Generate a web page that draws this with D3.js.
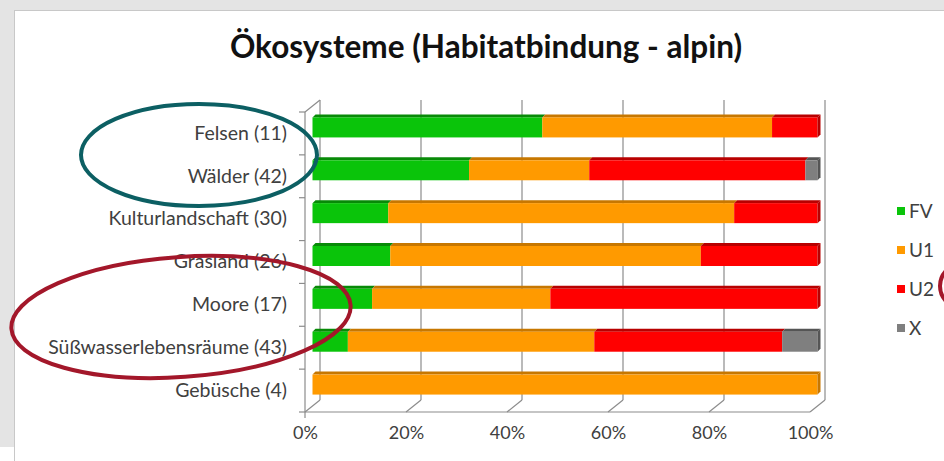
<!DOCTYPE html>
<html lang="de">
<head>
<meta charset="UTF-8">
<title>Ökosysteme (Habitatbindung - alpin)</title>
<script src="https://cdn.jsdelivr.net/npm/d3@7"></script>
<style>
  body { margin: 0; background: #fff; }
  svg { display: block; font-family: Lato, "Open Sans", sans-serif; }
</style>
</head>
<body>
<div id="container"></div>
<script>
// Data (share of species per assessment, in %)
var categories = ["Felsen (11)", "Wälder (42)", "Kulturlandschaft (30)", "Grasland (26)",
                  "Moore (17)", "Süßwasserlebensräume (43)", "Gebüsche (4)"];
var seriesNames = ["FV", "U1", "U2", "X"];
var fv = [45.5, 31.0, 15.0, 15.4, 11.8, 7.0, 0];
var u1 = [45.5, 23.8, 68.5, 61.5, 35.3, 48.8, 100];
var u2 = [9.0, 42.8, 16.5, 23.1, 52.9, 37.2, 0];
var x_ = [0, 2.4, 0, 0, 0, 7.0, 0];
var tickValues = [0, 20, 40, 60, 80, 100];

var W = 944, H = 461;
var svg = d3.select("#container").append("svg")
    .attr("width", W).attr("height", H);

// slide frame
svg.append("rect").attr("width", W).attr("height", H).attr("fill", "#fff");
svg.append("rect").attr("x", 0).attr("y", 0).attr("width", W).attr("height", 10).attr("fill", "#e4e4e4");
svg.append("rect").attr("x", 0).attr("y", 0).attr("width", 14).attr("height", 447).attr("fill", "#e4e4e4");
svg.append("line").attr("x1", 14).attr("x2", W).attr("y1", 10.5).attr("y2", 10.5).attr("stroke", "#c8c8c8");
svg.append("line").attr("x1", 14.5).attr("x2", 14.5).attr("y1", 10).attr("y2", H).attr("stroke", "#c8c8c8");

// title
svg.append("text")
    .attr("x", 486).attr("y", 58)
    .attr("text-anchor", "middle")
    .attr("font-size", 31.5).attr("font-weight", "bold")
    .attr("fill", "#111")
    .text("Ökosysteme (Habitatbindung - alpin)");

// scales (front plane), depth offset for the 3D box
var xScale = d3.scaleLinear().domain([0, 100]).range([305, 810]);
var yScale = d3.scaleBand().domain(categories).range([112, 412]);
var DX = 15, DY = -12;
var colors = { FV: "#0ac40a", U1: "#ff9a00", U2: "#ff0000", X: "#7f7f7f" };
var dark = { FV: "#078a07", U1: "#c77700", U2: "#b80000", X: "#555555" };

var top0 = yScale.range()[0], bot0 = yScale.range()[1];
var grid = svg.append("g").attr("stroke", "#8c8c8c").attr("stroke-width", 1.2).attr("fill", "none");

// back wall gridlines
grid.selectAll("line.v").data(tickValues).enter().append("line")
    .attr("x1", d => xScale(d) + DX).attr("x2", d => xScale(d) + DX)
    .attr("y1", top0 + DY).attr("y2", bot0 + DY);
// floor diagonals
grid.selectAll("line.f").data(tickValues).enter().append("line")
    .attr("x1", d => xScale(d)).attr("x2", d => xScale(d) + DX)
    .attr("y1", bot0).attr("y2", bot0 + DY);
// floor front edge
grid.append("line").attr("x1", xScale(0)).attr("x2", xScale(100)).attr("y1", bot0).attr("y2", bot0);
// left wall
grid.append("line").attr("x1", xScale(0)).attr("x2", xScale(0)).attr("y1", top0).attr("y2", bot0 + 6);
grid.append("line").attr("x1", xScale(0)).attr("x2", xScale(0) + DX).attr("y1", top0).attr("y2", top0 + DY);
// category ticks on the left wall
var bounds = categories.map(c => yScale(c)).concat([bot0]);
grid.selectAll("line.t").data(bounds).enter().append("line")
    .attr("x1", xScale(0) - 6).attr("x2", xScale(0))
    .attr("y1", d => d).attr("y2", d => d);

// stacked bars
var table = categories.map((c, i) => ({ cat: c, FV: fv[i], U1: u1[i], U2: u2[i], X: x_[i] }));
var stacked = d3.stack().keys(seriesNames)(table);
var bh = 20, mx = DX / 2, my = DY / 2, bd = 3;

var layers = svg.selectAll("g.layer").data(stacked).enter().append("g").attr("class", "layer");
layers.each(function (s) {
    var g = d3.select(this);
    var key = s.key;
    var segs = s.filter(d => d[1] - d[0] > 0);
    // top face
    g.selectAll("path.top").data(segs).enter().append("path")
        .attr("fill", dark[key])
        .attr("d", d => {
            var x1 = xScale(d[0]) + mx, x2 = xScale(d[1]) + mx;
            var y = yScale(d.data.cat) + yScale.bandwidth() / 2 + my - bh / 2;
            return "M" + x1 + "," + y + "L" + x2 + "," + y + "L" + (x2 + bd) + "," + (y - bd) +
                   "L" + (x1 + bd) + "," + (y - bd) + "Z";
        });
    // front face
    g.selectAll("rect").data(segs).enter().append("rect")
        .attr("x", d => xScale(d[0]) + mx)
        .attr("y", d => yScale(d.data.cat) + yScale.bandwidth() / 2 + my - bh / 2)
        .attr("width", d => xScale(d[1]) - xScale(d[0]))
        .attr("height", bh)
        .attr("fill", colors[key]);
    // end face for the last segment of each bar
    g.selectAll("path.end").data(segs.filter(d => d[1] >= 99.9)).enter().append("path")
        .attr("fill", dark[key])
        .attr("d", d => {
            var x = xScale(d[1]) + mx;
            var y = yScale(d.data.cat) + yScale.bandwidth() / 2 + my - bh / 2;
            return "M" + x + "," + y + "L" + (x + bd) + "," + (y - bd) + "L" + (x + bd) + "," + (y + bh - bd) +
                   "L" + x + "," + (y + bh) + "Z";
        });
});

// category labels
var yAxis = svg.append("g")
    .attr("transform", "translate(287,0)")
    .call(d3.axisLeft(yScale).tickSize(0).tickPadding(0));
yAxis.select(".domain").remove();
yAxis.selectAll("text").attr("font-size", 19.5).attr("font-family", "Lato, sans-serif").attr("fill", "#404040");

// x axis labels
var xAxis = svg.append("g")
    .attr("transform", "translate(0," + (bot0 + 14) + ")")
    .call(d3.axisBottom(xScale).tickValues(tickValues).tickFormat(d => d + "%").tickSize(0).tickPadding(0));
xAxis.select(".domain").remove();
xAxis.selectAll("text").attr("font-size", 18).attr("font-family", "Lato, sans-serif").attr("fill", "#404040");

// legend
var legend = svg.append("g").attr("transform", "translate(897,211)");
var li = legend.selectAll("g").data(seriesNames).enter().append("g")
    .attr("transform", (d, i) => "translate(0," + i * 39 + ")");
li.append("rect").attr("x", 0).attr("y", -4).attr("width", 8).attr("height", 8).attr("fill", d => colors[d]);
li.append("text").attr("x", 12).attr("y", 7).attr("font-size", 19).attr("fill", "#404040").text(d => d);

// hand-drawn highlight marks
svg.append("ellipse").attr("cx", 199).attr("cy", 155).attr("rx", 118).attr("ry", 51)
    .attr("fill", "none").attr("stroke", "#0c5f63").attr("stroke-width", 4);
svg.append("ellipse").attr("cx", 181).attr("cy", 317).attr("rx", 170).attr("ry", 60)
    .attr("transform", "rotate(-4,181,317)")
    .attr("fill", "none").attr("stroke", "#a3172a").attr("stroke-width", 4);
svg.append("circle").attr("cx", 962).attr("cy", 286).attr("r", 22)
    .attr("fill", "none").attr("stroke", "#a3172a").attr("stroke-width", 4);
</script>
</body>
</html>
